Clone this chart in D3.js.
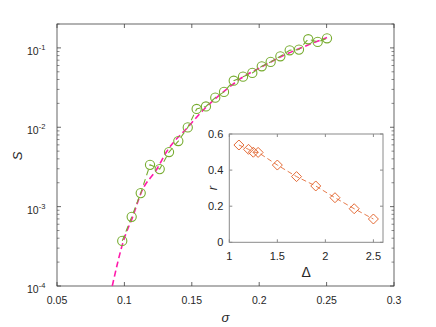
<!DOCTYPE html>
<html>
<head>
<meta charset="utf-8">
<script src="https://cdn.jsdelivr.net/npm/d3@7"></script>
<style>
  body { margin: 0; background: #fff; }
  svg { font-family: "Liberation Sans", Arial, sans-serif; }
</style>
</head>
<body>
<div id="chart"></div>
<script>
// main panel: simulation points (green circles)
var sigmaSim = [0.0984, 0.1054, 0.1121, 0.1190, 0.1262, 0.1331, 0.1400, 0.1470, 0.1536, 0.1605,
    0.1674, 0.1739, 0.1811, 0.1880, 0.1949, 0.2019, 0.2085, 0.2157, 0.2226, 0.2295,
    0.2364, 0.2434, 0.2503];
var sSim = [3.70e-4, 7.43e-4, 1.48e-3, 3.36e-3, 2.97e-3, 4.87e-3, 6.70e-3, 9.96e-3, 1.70e-2, 1.83e-2,
    2.36e-2, 2.79e-2, 3.86e-2, 4.34e-2, 4.84e-2, 5.86e-2, 6.66e-2, 7.83e-2, 9.33e-2, 9.52e-2,
    1.285e-1, 1.19e-1, 1.32e-1];

// main panel: theory curve (magenta dashed)
var sigmaTheory = [0.0910, 0.0995, 0.1062, 0.1123, 0.1242, 0.1314, 0.1470, 0.1600, 0.1771, 0.1858,
    0.2020, 0.2179, 0.2340, 0.2503];
var sTheory = [1.0e-4, 3.8e-4, 7.5e-4, 1.48e-3, 3.0e-3, 4.95e-3, 1.0e-2, 1.75e-2, 3.13e-2, 4.06e-2,
    5.8e-2, 8.0e-2, 1.05e-1, 1.35e-1];

// inset: r vs Delta
var deltaVals = [1.1, 1.2, 1.25, 1.3, 1.5, 1.7, 1.9, 2.1, 2.3, 2.5];
var rVals = [0.539, 0.515, 0.499, 0.498, 0.428, 0.364, 0.312, 0.247, 0.186, 0.129];

var xTicks = [0.05, 0.1, 0.15, 0.2, 0.25, 0.3];
var yTicks = [1e-4, 1e-3, 1e-2, 1e-1];
var yExponents = ["-4", "-3", "-2", "-1"];
var insetXTicks = [1, 1.5, 2, 2.5];
var insetYTicks = [0, 0.2, 0.4, 0.6];

var W = 436, H = 327;
var axisColor = "#404040";
var green = "#77ac30", magenta = "#ff1aab", orange = "#e05a20";

var svg = d3.select("#chart").append("svg")
    .attr("width", W)
    .attr("height", H);

// ---------- main axes ----------
var m = {left: 57, right: 394, top: 24, bottom: 286};

var x = d3.scaleLinear().domain([0.05, 0.3]).range([m.left, m.right]);
var y = d3.scaleLog().domain([1e-4, 0.2]).range([m.bottom, m.top]);

var main = svg.append("g");

// minor log ticks
var minor = [];
[1e-4, 1e-3, 1e-2, 1e-1].forEach(function(d) {
    for (var k = 2; k <= 9; k++) {
        if (d * k <= 0.2) minor.push(d * k);
    }
});

main.selectAll(".minorL").data(minor).enter().append("line")
    .attr("x1", m.left).attr("x2", m.left + 2.5)
    .attr("y1", function(d) { return y(d); }).attr("y2", function(d) { return y(d); })
    .attr("stroke", axisColor).attr("stroke-width", 0.6);
main.selectAll(".minorR").data(minor).enter().append("line")
    .attr("x1", m.right).attr("x2", m.right - 2.5)
    .attr("y1", function(d) { return y(d); }).attr("y2", function(d) { return y(d); })
    .attr("stroke", axisColor).attr("stroke-width", 0.6);

// major y ticks both sides
main.selectAll(".majL").data(yTicks).enter().append("line")
    .attr("x1", m.left).attr("x2", m.left + 4)
    .attr("y1", function(d) { return y(d); }).attr("y2", function(d) { return y(d); })
    .attr("stroke", axisColor).attr("stroke-width", 0.8);
main.selectAll(".majR").data(yTicks).enter().append("line")
    .attr("x1", m.right).attr("x2", m.right - 4)
    .attr("y1", function(d) { return y(d); }).attr("y2", function(d) { return y(d); })
    .attr("stroke", axisColor).attr("stroke-width", 0.8);

// x ticks bottom and top
main.selectAll(".xtB").data(xTicks).enter().append("line")
    .attr("x1", function(d) { return x(d); }).attr("x2", function(d) { return x(d); })
    .attr("y1", m.bottom).attr("y2", m.bottom - 4)
    .attr("stroke", axisColor).attr("stroke-width", 0.8);
main.selectAll(".xtT").data(xTicks).enter().append("line")
    .attr("x1", function(d) { return x(d); }).attr("x2", function(d) { return x(d); })
    .attr("y1", m.top).attr("y2", m.top + 4)
    .attr("stroke", axisColor).attr("stroke-width", 0.8);

// box
main.append("rect")
    .attr("x", m.left).attr("y", m.top)
    .attr("width", m.right - m.left).attr("height", m.bottom - m.top)
    .attr("fill", "none").attr("stroke", axisColor).attr("stroke-width", 0.8);

// tick labels
main.selectAll(".xl").data(xTicks).enter().append("text")
    .attr("x", function(d) { return x(d); })
    .attr("y", m.bottom + 18)
    .attr("text-anchor", "middle")
    .attr("font-size", "10.5px")
    .attr("fill", "#262626")
    .text(function(d) { return d3.format("")(d); });

var yl = main.selectAll(".yl").data(yTicks).enter().append("text")
    .attr("x", m.left - 21)
    .attr("y", function(d) { return y(d) + 7; })
    .attr("text-anchor", "end")
    .attr("font-size", "10.5px")
    .attr("fill", "#262626");
yl.append("tspan").text("10");
yl.append("tspan")
    .attr("dy", -5)
    .attr("font-size", "7.5px")
    .text(function(d, i) { return yExponents[i]; });
yl.attr("text-anchor", "start").attr("x", m.left - 30);

// axis labels
main.append("text")
    .attr("x", x(0.175)).attr("y", 322)
    .attr("text-anchor", "middle")
    .attr("font-size", "13px")
    .attr("font-style", "italic")
    .attr("fill", "#262626")
    .text("σ");
main.append("text")
    .attr("transform", "translate(22,156) rotate(-90)")
    .attr("text-anchor", "middle")
    .attr("font-size", "13px")
    .attr("font-style", "italic")
    .attr("fill", "#262626")
    .text("S");

// theory curve
var theory = sigmaTheory.map(function(d, i) { return [d, sTheory[i]]; });
main.append("path")
    .datum(theory)
    .attr("fill", "none")
    .attr("stroke", magenta)
    .attr("stroke-width", 1.6)
    .attr("stroke-dasharray", "6,3.5")
    .attr("d", d3.line()
        .curve(d3.curveMonotoneX)
        .x(function(d) { return x(d[0]); })
        .y(function(d) { return y(d[1]); }));

// simulation line + circles
var sim = sigmaSim.map(function(d, i) { return [d, sSim[i]]; });
main.append("path")
    .datum(sim)
    .attr("fill", "none")
    .attr("stroke", green)
    .attr("stroke-width", 1.1)
    .attr("stroke-dasharray", "6,4")
    .attr("d", d3.line()
        .x(function(d) { return x(d[0]); })
        .y(function(d) { return y(d[1]); }));

main.selectAll(".circ").data(sim).enter().append("circle")
    .attr("cx", function(d) { return x(d[0]); })
    .attr("cy", function(d) { return y(d[1]); })
    .attr("r", 4.6)
    .attr("fill", "none")
    .attr("stroke", green)
    .attr("stroke-width", 1.1);

// ---------- inset ----------
var n = {left: 229.3, right: 383, top: 134, bottom: 242.3};
var xi = d3.scaleLinear().domain([1, 2.6]).range([n.left, n.right]);
var yi = d3.scaleLinear().domain([0, 0.6]).range([n.bottom, n.top]);
var insetColor = "#8a8a8a";

var inset = svg.append("g");

inset.append("rect")
    .attr("x", n.left).attr("y", n.top)
    .attr("width", n.right - n.left).attr("height", n.bottom - n.top)
    .attr("fill", "#fff").attr("stroke", insetColor).attr("stroke-width", 1);

inset.selectAll(".ixt").data(insetXTicks).enter().append("line")
    .attr("x1", function(d) { return xi(d); }).attr("x2", function(d) { return xi(d); })
    .attr("y1", n.bottom).attr("y2", n.bottom - 3)
    .attr("stroke", insetColor);
inset.selectAll(".ixtT").data(insetXTicks).enter().append("line")
    .attr("x1", function(d) { return xi(d); }).attr("x2", function(d) { return xi(d); })
    .attr("y1", n.top).attr("y2", n.top + 3)
    .attr("stroke", insetColor);
inset.selectAll(".iyt").data(insetYTicks).enter().append("line")
    .attr("x1", n.left).attr("x2", n.left + 3)
    .attr("y1", function(d) { return yi(d); }).attr("y2", function(d) { return yi(d); })
    .attr("stroke", insetColor);
inset.selectAll(".iytR").data(insetYTicks).enter().append("line")
    .attr("x1", n.right).attr("x2", n.right - 3)
    .attr("y1", function(d) { return yi(d); }).attr("y2", function(d) { return yi(d); })
    .attr("stroke", insetColor);

inset.selectAll(".ixl").data(insetXTicks).enter().append("text")
    .attr("x", function(d) { return xi(d); })
    .attr("y", n.bottom + 18)
    .attr("text-anchor", "middle")
    .attr("font-size", "11px")
    .attr("fill", "#262626")
    .text(function(d) { return d; });
inset.selectAll(".iyl").data(insetYTicks).enter().append("text")
    .attr("x", n.left - 6)
    .attr("y", function(d) { return yi(d) + 4; })
    .attr("text-anchor", "end")
    .attr("font-size", "11px")
    .attr("fill", "#262626")
    .text(function(d) { return d; });

inset.append("text")
    .attr("x", xi(1.8)).attr("y", 277)
    .attr("text-anchor", "middle")
    .attr("font-size", "14px")
    .attr("fill", "#262626")
    .text("Δ");
inset.append("text")
    .attr("transform", "translate(217,188) rotate(-90)")
    .attr("text-anchor", "middle")
    .attr("font-size", "13px")
    .attr("font-style", "italic")
    .attr("fill", "#262626")
    .text("r");

var rd = deltaVals.map(function(d, i) { return [d, rVals[i]]; });
inset.append("path")
    .datum(rd)
    .attr("fill", "none")
    .attr("stroke", orange)
    .attr("stroke-width", 0.8)
    .attr("stroke-dasharray", "5,3")
    .attr("d", d3.line()
        .x(function(d) { return xi(d[0]); })
        .y(function(d) { return yi(d[1]); }));

inset.selectAll(".dia").data(rd).enter().append("path")
    .attr("transform", function(d) { return "translate(" + xi(d[0]) + "," + yi(d[1]) + ")"; })
    .attr("d", "M0,-5L5,0L0,5L-5,0Z")
    .attr("fill", "none")
    .attr("stroke", orange)
    .attr("stroke-width", 0.9);
</script>
</body>
</html>
